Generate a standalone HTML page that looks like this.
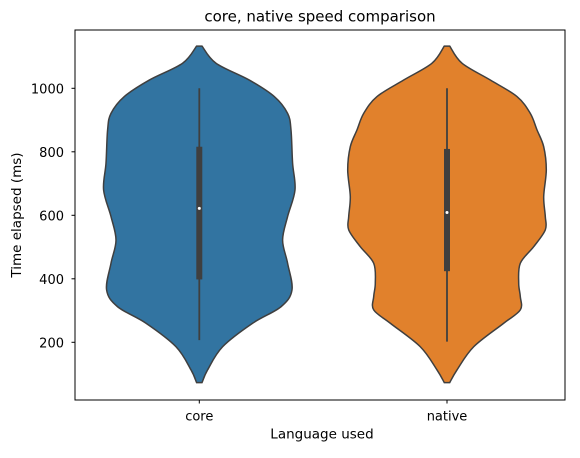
<!DOCTYPE html>
<html><head><meta charset="utf-8"><style>
body{margin:0;background:#fff;}
svg text{font-family:"DejaVu Sans","Liberation Sans",sans-serif;fill:#000;}
</style></head><body>
<svg id="c" width="580" height="453" xmlns="http://www.w3.org/2000/svg">
<rect width="580" height="453" fill="#fff"/>
<text x="320" y="21.5" font-size="15" text-anchor="middle">core, native speed comparison</text>
<text transform="translate(21,215) rotate(-90)" font-size="13.5" text-anchor="middle">Time elapsed (ms)</text>
<text x="322" y="438.5" font-size="13.5" text-anchor="middle">Language used</text>
<g id="plot"></g>
<rect x="75" y="30" width="490" height="370" fill="none" stroke="#000" stroke-width="1"/>
</svg>
<script>
const categories = ["core","native"];
const colors = ["#3274a1","#e1812c"];
const yTicks = [200,400,600,800,1000];
const coreY = [1133,1079,1026,974,921,869,764,680,596,522,449,365,312,260,186,113,73];
const coreW = [2.7,16.7,50,75,88.3,91.7,93.3,95.7,88.3,83.3,88.3,92.7,81.7,53.3,23.3,8.3,2.7];
const nativeY = [1133,1079,1026,974,921,869,816,743,659,596,554,501,449,386,344,302,260,186,113,73];
const nativeW = [2.7,15,43.3,70,83.3,90,96.7,99.3,96.7,98.3,98.3,86.7,73.3,71.7,73.3,73.3,56.7,26.7,10,2.7];
const q1 = [398,424], q3 = [816,809], medians = [622,609], whiskLo = [207,202], whiskHi = [1000,1000];
const dens = [[coreY,coreW],[nativeY,nativeW]];

const NS="http://www.w3.org/2000/svg";
function yS(v){return 342.3-(v-200)*0.3175;}
function xS(i){return 199.3+i*247.7;}
const g=document.getElementById('plot');
const svg=document.getElementById('c');
function mk(t,a){const e=document.createElementNS(NS,t);for(const k in a)e.setAttribute(k,a[k]);return e;}
function smooth(pts){let d="M"+pts[0][0]+","+pts[0][1];
 for(let i=0;i<pts.length-1;i++){const p0=pts[i-1]||pts[i],p1=pts[i],p2=pts[i+1],p3=pts[i+2]||p2;
  d+=" C"+(p1[0]+(p2[0]-p0[0])/6)+","+(p1[1]+(p2[1]-p0[1])/6)+" "+(p2[0]-(p3[0]-p1[0])/6)+","+(p2[1]-(p3[1]-p1[1])/6)+" "+p2[0]+","+p2[1];}
 return d;}
yTicks.forEach(v=>{
 const y=yS(v);
 const t=mk('line',{x1:71.5,x2:75,y1:y,y2:y,stroke:'#000'});
 
 
 svg.appendChild(t);
 const l=mk('text',{x:64,y:y+5,'font-size':'13','text-anchor':'end'});l.textContent=v;
 
 
 svg.appendChild(l);
});
categories.forEach((c,i)=>{
 const cx=xS(i);const [ys,ws]=dens[i];
 const right=ys.map((v,k)=>[cx+ws[k],yS(v)]);
 const left=ys.map((v,k)=>[cx-ws[k],yS(v)]).reverse();
 const sl=smooth(left);
 const d=smooth(right)+" L"+left[0][0]+","+left[0][1]+sl.slice(sl.indexOf(" C"))+" Z";
 const p=mk('path',{d:d,fill:colors[i],stroke:'#3f3f3f','stroke-width':1.5});
 
 
 g.appendChild(p);
 const w=mk('line',{x1:cx,x2:cx,y1:yS(whiskLo[i]),y2:yS(whiskHi[i]),stroke:'#3f3f3f','stroke-width':1.8});
 
 
 g.appendChild(w);
 const b=mk('rect',{x:cx-3,y:yS(q3[i]),width:6,height:yS(q1[i])-yS(q3[i]),fill:'#3f3f3f'});
 
 
 g.appendChild(b);
 const m=mk('circle',{cx:cx,cy:yS(medians[i]),r:1.5,fill:'#fff'});
 
 
 g.appendChild(m);
 const t=mk('line',{x1:cx,x2:cx,y1:400,y2:403.5,stroke:'#000'});
 
 
 svg.appendChild(t);
 const l=mk('text',{x:cx,y:420.5,'font-size':'13','text-anchor':'middle'});l.textContent=c;
 
 
 svg.appendChild(l);
});
</script>
</body></html>
